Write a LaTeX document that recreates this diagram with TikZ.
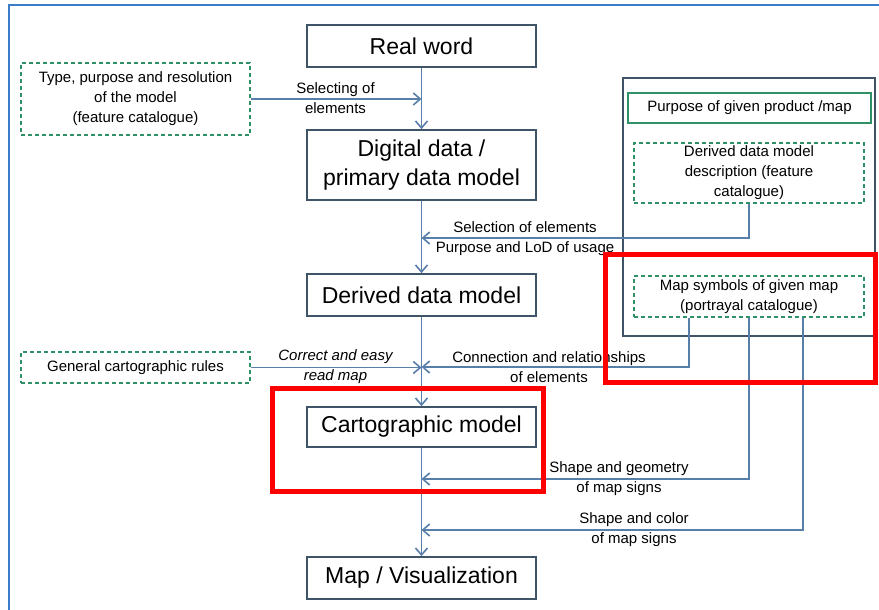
\documentclass[tikz,border=0pt]{standalone}
\usepackage{fontspec}
\setmainfont{Liberation Sans}
\usetikzlibrary{arrows.meta}
\definecolor{linkblue}{RGB}{88,126,170}
\definecolor{boxgray}{RGB}{64,84,104}
\definecolor{catgreen}{RGB}{46,146,102}
\definecolor{frameblue}{RGB}{58,124,200}
\begin{document}
\begin{tikzpicture}[x = 1pt, y = -1pt,
        stagebox/.style = {draw = boxgray, line width = 1.6pt, minimum width = 229pt,
            inner sep = 0pt, align = center, font = \fontsize{23}{29}\selectfont},
        catbox/.style = {draw = catgreen, line width = 1.5pt, dash pattern = on 4pt off 3pt,
            inner sep = 0pt, align = center, font = \fontsize{15}{20}\selectfont},
        note/.style = {align = center, inner sep = 0pt, font = \fontsize{15}{20}\selectfont},
        flow/.style = {draw = linkblue, line width = 1.6pt,
            -{Straight Barb[length = 7pt, width = 12pt]}}]
    \useasboundingbox (0,0) rectangle (879,610);
    \draw[frameblue, line width = 2.2pt] (9,620) -- (9,5) -- (890,5);
    \node[stagebox, minimum height = 42pt] (real) at (421.5,46) {Real word};
    \node[stagebox, minimum height = 70pt] (digital) at (421.5,165) {Digital data /\\primary data model};
    \node[stagebox, minimum height = 42pt] (derived) at (421.5,295) {Derived data model};
    \node[stagebox, minimum height = 40pt] (carto) at (421.5,427) {Cartographic model};
    \node[stagebox, minimum height = 42pt] (mapvis) at (421.5,578) {Map / Visualization};
    \node[catbox, minimum width = 229pt, minimum height = 72pt] (typebox) at (135.5,99)
        {Type, purpose and resolution\\of the model\\(feature catalogue)};
    \node[catbox, minimum width = 229pt, minimum height = 31pt] (rules) at (135.5,367.5)
        {General cartographic rules};
    \node[draw = boxgray, line width = 1.5pt, minimum width = 252pt, minimum height = 258pt] (product) at (749,207) {};
    \node[catbox, solid, minimum width = 243pt, minimum height = 30pt] (purpose) at (749.5,108)
        {Purpose of given product /map};
    \node[catbox, minimum width = 230pt, minimum height = 60pt] (desc) at (749,173)
        {Derived data model\\description (feature\\catalogue)};
    \node[catbox, minimum width = 230pt, minimum height = 41pt] (symbols) at (749,296.5)
        {Map symbols of given map\\(portrayal catalogue)};
    \coordinate (selin) at (421.5,238);
    \coordinate (connin) at (421.5,367);
    \coordinate (geomin) at (421.5,479);
    \coordinate (colin) at (421.5,530);
    \draw[flow] (real) -- (digital);
    \draw[flow] (digital) -- (derived);
    \draw[flow] (derived) -- (carto);
    \draw[flow] (carto) -- (mapvis);
    \draw[flow] (typebox) -- (typebox -| real);
    \draw[flow] (rules) -- (rules -| real);
    \draw[flow] (desc) |- (selin);
    \draw[flow] ([xshift = -60pt]symbols.south) |- (connin);
    \draw[flow] (symbols.south) |- (geomin);
    \draw[flow] ([xshift = 54pt]symbols.south) |- (colin);
    \node[note] (selecting) at (335.5,98) {Selecting of\\elements};
    \node[note] (selection) at (525,239) {Selection of elements\\Purpose and LoD of usage};
    \node[note, font = \fontsize{15}{20}\selectfont\itshape] (correct) at (335.5,367) {Correct and easy\\read map};
    \node[note] (connection) at (549,367) {Connection and relationships\\of elements};
    \node[note] (geometry) at (619,479) {Shape and geometry\\of map signs};
    \node[note] (color) at (634,530) {Shape and color\\of map signs};
    \begin{scope}[style = {draw = red, line width = 5pt}]
        \draw (605.5,254) rectangle (875.5,382.5);
        \draw (272,388) rectangle (543,491.5);
    \end{scope}
\end{tikzpicture}
\end{document}
